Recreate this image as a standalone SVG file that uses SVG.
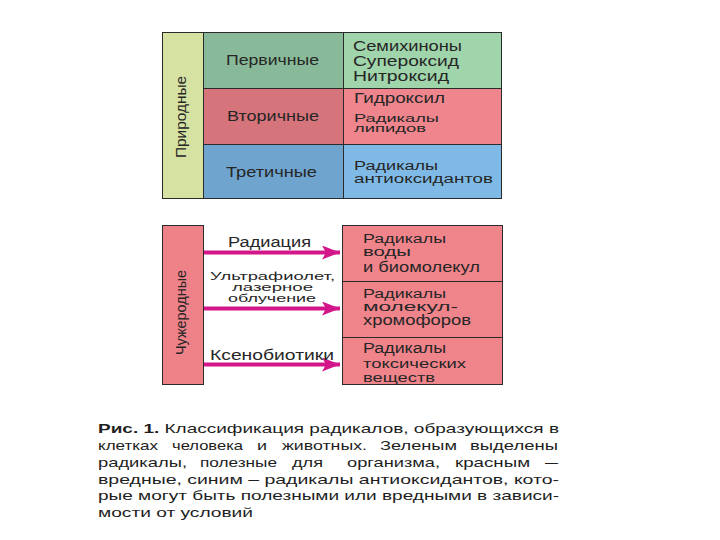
<svg xmlns="http://www.w3.org/2000/svg" width="720" height="540" viewBox="0 0 720 540">
<style>
.b{stroke:#2a2a2a;stroke-width:1}
.t{font-family:"Liberation Sans",Arial,sans-serif;font-size:14px;fill:#262626}
.s{font-size:11.5px}
.m{font-size:12.5px}
.c{font-family:"Liberation Sans",Arial,sans-serif;font-size:13px;fill:#1e1e1e}
.a{stroke:#d3168a;stroke-width:4;fill:none}
</style>
<defs>
<marker id="ah" markerUnits="userSpaceOnUse" markerWidth="20" markerHeight="14" refX="18" refY="7" orient="auto">
<path d="M0,0 L18,7 L0,14 L4,7 Z" fill="#d3168a"/>
</marker>
</defs>
<rect width="720" height="540" fill="#ffffff"/>

<g id="natural">
<rect class="b" x="162.5" y="32.5" width="41" height="166" fill="#d6e2a2"/>
<text class="t" transform="translate(186,117) rotate(-90)" text-anchor="middle" font-size="15" textLength="82" lengthAdjust="spacingAndGlyphs">Природные</text>
</g>
<g id="primary">
<rect class="b" x="203.5" y="32.5" width="140" height="56" fill="#88b998"/>
<text class="t" x="226" y="64.5" textLength="93" lengthAdjust="spacingAndGlyphs">Первичные</text>
<rect class="b" x="343.5" y="32.5" width="158" height="56" fill="#a0d4ab"/>
<text class="t" x="353" y="50.5" textLength="109" lengthAdjust="spacingAndGlyphs">Семихиноны</text>
<text class="t" x="353" y="66" textLength="106" lengthAdjust="spacingAndGlyphs">Супероксид</text>
<text class="t" x="353" y="81" textLength="96" lengthAdjust="spacingAndGlyphs">Нитроксид</text>
</g>
<g id="secondary">
<rect class="b" x="203.5" y="88.5" width="140" height="56" fill="#d6747b"/>
<text class="t" x="227" y="120.5" textLength="92" lengthAdjust="spacingAndGlyphs">Вторичные</text>
<rect class="b" x="343.5" y="88.5" width="158" height="56" fill="#f0868d"/>
<text class="t" x="354" y="103" textLength="91" lengthAdjust="spacingAndGlyphs">Гидроксил</text>
<text class="t s" x="354" y="121.5" textLength="85" lengthAdjust="spacingAndGlyphs">Радикалы</text>
<text class="t s" x="354" y="132" textLength="72" lengthAdjust="spacingAndGlyphs">липидов</text>
</g>
<g id="tertiary">
<rect class="b" x="203.5" y="144.5" width="140" height="54" fill="#6fa4cf"/>
<text class="t" x="226" y="176.5" textLength="91" lengthAdjust="spacingAndGlyphs">Третичные</text>
<rect class="b" x="343.5" y="144.5" width="158" height="54" fill="#7fbae6"/>
<text class="t m" x="354" y="170" textLength="84" lengthAdjust="spacingAndGlyphs">Радикалы</text>
<text class="t m" x="354" y="183" textLength="139" lengthAdjust="spacingAndGlyphs">антиоксидантов</text>
</g>

<g id="foreign">
<rect class="b" x="162.5" y="225.5" width="41" height="159" fill="#ef8188"/>
<text class="t" transform="translate(186,312.5) rotate(-90)" text-anchor="middle" font-size="15" textLength="85" lengthAdjust="spacingAndGlyphs">Чужеродные</text>
</g>
<g id="water">
<rect class="b" x="342.5" y="225.5" width="160" height="56" fill="#f0848b"/>
<text class="t m" x="363" y="242.5" textLength="83" lengthAdjust="spacingAndGlyphs">Радикалы</text>
<text class="t m" x="363" y="256" textLength="48" lengthAdjust="spacingAndGlyphs">воды</text>
<text class="t" x="363" y="271.5" textLength="117" lengthAdjust="spacingAndGlyphs">и биомолекул</text>
</g>
<g id="chromo">
<rect class="b" x="342.5" y="281.5" width="160" height="56" fill="#f0848b"/>
<text class="t m" x="363" y="298" textLength="83" lengthAdjust="spacingAndGlyphs">Радикалы</text>
<text class="t m" x="363" y="310.5" textLength="95" lengthAdjust="spacingAndGlyphs">молекул-</text>
<text class="t" x="363" y="325" textLength="108" lengthAdjust="spacingAndGlyphs">хромофоров</text>
</g>
<g id="toxic">
<rect class="b" x="342.5" y="337.5" width="160" height="47" fill="#f0848b"/>
<text class="t" x="363" y="352.5" textLength="83" lengthAdjust="spacingAndGlyphs">Радикалы</text>
<text class="t m" x="363" y="368" textLength="103" lengthAdjust="spacingAndGlyphs">токсических</text>
<text class="t m" x="363" y="381.5" textLength="72" lengthAdjust="spacingAndGlyphs">веществ</text>
</g>

<g id="connectors">
<line class="a" x1="204" y1="252.5" x2="340" y2="252.5" marker-end="url(#ah)"/>
<line class="a" x1="204" y1="308.5" x2="340" y2="308.5" marker-end="url(#ah)"/>
<line class="a" x1="204" y1="364.5" x2="340" y2="364.5" marker-end="url(#ah)"/>
<text class="t" x="228" y="246.5" textLength="83" lengthAdjust="spacingAndGlyphs">Радиация</text>
<text class="t s" x="210" y="280" textLength="125" lengthAdjust="spacingAndGlyphs">Ультрафиолет,</text>
<text class="t s" x="232" y="290.5" textLength="81" lengthAdjust="spacingAndGlyphs">лазерное</text>
<text class="t s" x="228" y="301.5" textLength="88" lengthAdjust="spacingAndGlyphs">облучение</text>
<text class="t" x="210" y="360" textLength="124" lengthAdjust="spacingAndGlyphs">Ксенобиотики</text>
</g>

<g id="caption">
<text class="c" x="98" y="433" textLength="461" lengthAdjust="spacingAndGlyphs"><tspan font-weight="bold">Рис. 1.</tspan> Классификация радикалов, образующихся в</text>
<text class="c" x="98" y="450" textLength="60" lengthAdjust="spacingAndGlyphs">клетках</text>
<text class="c" x="172" y="450" textLength="71" lengthAdjust="spacingAndGlyphs">человека</text>
<text class="c" x="257" y="450" textLength="10" lengthAdjust="spacingAndGlyphs">и</text>
<text class="c" x="282" y="450" textLength="85" lengthAdjust="spacingAndGlyphs">животных.</text>
<text class="c" x="380" y="450" textLength="77" lengthAdjust="spacingAndGlyphs">Зеленым</text>
<text class="c" x="470" y="450" textLength="88" lengthAdjust="spacingAndGlyphs">выделены</text>
<text class="c" x="98" y="467" textLength="89" lengthAdjust="spacingAndGlyphs">радикалы,</text>
<text class="c" x="200" y="467" textLength="77" lengthAdjust="spacingAndGlyphs">полезные</text>
<text class="c" x="292" y="467" textLength="31" lengthAdjust="spacingAndGlyphs">для</text>
<text class="c" x="347" y="467" textLength="93" lengthAdjust="spacingAndGlyphs">организма,</text>
<text class="c" x="455" y="467" textLength="75" lengthAdjust="spacingAndGlyphs">красным</text>
<text class="c" x="545" y="467" textLength="13" lengthAdjust="spacingAndGlyphs">–</text>
<text class="c" x="98" y="483.5" textLength="461" lengthAdjust="spacingAndGlyphs">вредные, синим – радикалы антиоксидантов, кото-</text>
<text class="c" x="98" y="500" textLength="461" lengthAdjust="spacingAndGlyphs">рые могут быть полезными или вредными в зависи-</text>
<text class="c" x="98" y="517" textLength="155" lengthAdjust="spacingAndGlyphs">мости от условий</text>
</g>
</svg>
